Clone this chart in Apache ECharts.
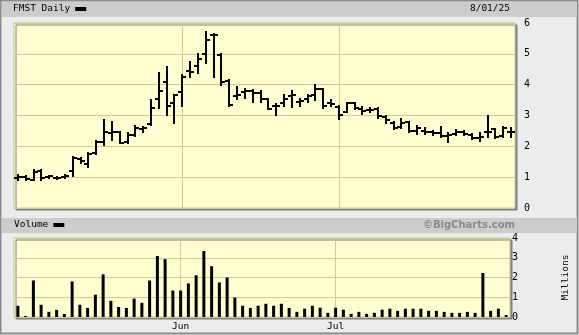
<!DOCTYPE html>
<html><head><meta charset="utf-8">
<script src="https://cdn.jsdelivr.net/npm/echarts@6/dist/echarts.min.js"></script>
<style>html,body{margin:0;padding:0;background:#ececec}#c{width:579px;height:335px}</style>
</head><body><div id="c"></div>
<script>
const dates = ['2025-05-01','2025-05-02','2025-05-05','2025-05-06','2025-05-07','2025-05-08','2025-05-09','2025-05-12','2025-05-13','2025-05-14','2025-05-15','2025-05-16','2025-05-19','2025-05-20','2025-05-21','2025-05-22','2025-05-23','2025-05-27','2025-05-28','2025-05-29','2025-05-30',
'2025-06-02','2025-06-03','2025-06-04','2025-06-05','2025-06-06','2025-06-09','2025-06-10','2025-06-11','2025-06-12','2025-06-13','2025-06-16','2025-06-17','2025-06-18','2025-06-20','2025-06-23','2025-06-24','2025-06-25','2025-06-26','2025-06-27','2025-06-30',
'2025-07-01','2025-07-02','2025-07-03','2025-07-07','2025-07-08','2025-07-09','2025-07-10','2025-07-11','2025-07-14','2025-07-15','2025-07-16','2025-07-17','2025-07-18','2025-07-21','2025-07-22','2025-07-23','2025-07-24','2025-07-25','2025-07-28','2025-07-29','2025-07-30','2025-07-31','2025-08-01'];
const opens = [0.98,1.0,0.92,1.2,1.0,0.98,1.0,1.2,1.6,1.42,
1.78,2.15,2.42,2.45,2.13,2.38,2.55,2.72,3.53,4.08,
3.4,3.75,4.45,4.6,5.0,5.62,4.95,4.12,3.62,3.75,
3.8,3.72,3.52,3.32,3.4,3.62,3.45,3.52,3.68,3.85,
3.4,3.28,3.1,3.39,3.2,3.18,3.22,2.95,2.75,2.62,
2.78,2.5,2.5,2.47,2.42,2.33,2.4,2.48,2.38,2.28,
2.45,2.55,2.32,2.45];
const highs = [1.06,1.03,1.22,1.22,1.05,1.0,1.06,1.64,1.62,1.78,
2.18,2.85,2.78,2.48,2.42,2.65,2.62,3.5,4.38,4.58,
3.68,4.3,4.75,5.0,5.72,5.65,4.98,4.14,3.92,3.85,
3.82,3.78,3.55,3.38,3.65,3.78,3.55,3.68,3.98,3.86,
3.5,3.3,3.4,3.4,3.27,3.23,3.24,2.97,2.8,2.88,
2.8,2.65,2.58,2.5,2.62,2.42,2.52,2.5,2.4,2.42,
2.97,2.57,2.62,2.6];
const lows = [0.9,0.92,0.9,0.9,0.96,0.94,0.97,1.05,1.45,1.34,
1.76,2.03,2.2,2.1,2.12,2.35,2.45,2.68,3.24,3.02,
2.77,3.3,4.25,4.38,4.7,4.25,4.0,3.32,3.52,3.58,
3.45,3.45,3.22,3.02,3.3,3.27,3.3,3.45,3.5,3.25,
3.3,2.9,3.1,3.2,3.05,3.12,2.92,2.75,2.55,2.6,
2.48,2.4,2.4,2.38,2.3,2.15,2.38,2.38,2.25,2.18,
2.3,2.28,2.3,2.3];
const closes = [1.0,0.95,1.18,0.98,1.03,0.96,1.04,1.62,1.52,1.75,
2.15,2.45,2.45,2.12,2.37,2.58,2.6,3.25,3.78,3.3,
3.68,4.25,4.42,4.83,5.45,5.62,4.1,3.35,3.68,3.8,
3.72,3.55,3.22,3.32,3.52,3.65,3.48,3.62,3.85,3.32,
3.38,3.03,3.39,3.25,3.15,3.18,2.97,2.85,2.6,2.75,
2.5,2.58,2.45,2.42,2.33,2.37,2.48,2.4,2.28,2.3,
2.47,2.3,2.6,2.45];
const volumes = [0.57,0.05,1.85,0.62,0.26,0.36,0.15,1.8,0.62,0.46,
1.13,2.16,0.82,0.51,0.46,0.93,0.72,1.85,3.09,2.93,
1.34,1.34,1.7,2.11,3.34,2.57,1.75,2.0,0.98,0.57,
0.46,0.57,0.67,0.57,0.67,0.46,0.26,0.42,0.57,0.47,
0.21,0.47,0.37,0.16,0.26,0.16,0.21,0.37,0.42,0.31,
0.42,0.42,0.42,0.31,0.31,0.26,0.21,0.21,0.26,0.21,
2.23,0.31,0.42,0.1];
const monthTicks = [['2025-06-02','Jun'],['2025-07-01','Jul']];
const priceTicks = [0,1,2,3,4,5,6];
const volumeTicks = [0,1,2,3,4];
const titleText = 'FMST Daily';
const dateText = '8/01/25';
const volumeText = 'Volume';
const creditText = '©BigCharts.com';
const volumeUnit = 'Millions';

const monthMap = {};
monthTicks.forEach(m => monthMap[m[0]] = m[1]);
const ohlc = opens.map((o, i) => [i, o, highs[i], lows[i], closes[i]]);
const MONO = 'DejaVu Sans Mono';
const gridColor = '#cccc99';
const plotBg = '#fefed0';

const chart = echarts.init(document.getElementById('c'), null, {renderer: 'canvas'});
const markLineCfg = {
  silent: true, symbol: 'none', z: 1, animation: false,
  label: {show: false},
  lineStyle: {color: gridColor, width: 1, type: 'solid'},
  data: monthTicks.map(m => ({xAxis: m[0]}))
};
chart.setOption({
  animation: false,
  backgroundColor: '#ececec',
  graphic: [
    {type: 'rect', z: -10, shape: {x: 0.5, y: 0.5, width: 577, height: 333}, style: {fill: '#ececec', stroke: '#8c8c8c', lineWidth: 2}},
    {type: 'rect', z: -9, shape: {x: 2, y: 2, width: 575, height: 15}, style: {fill: '#cccccc'}},
    {type: 'rect', z: -9, shape: {x: 2, y: 218, width: 575, height: 15}, style: {fill: '#cccccc'}}
  ],
  title: [
    {text: dateText, right: 69, top: 4, padding: 0, textStyle: {fontFamily: MONO, fontSize: 9.5, fontWeight: 'normal', color: '#000'}},
    {text: creditText, right: 64, top: 220, padding: 0, textStyle: {fontFamily: 'DejaVu Sans', fontSize: 10, fontWeight: 'bold', color: '#8a8a8a'}}
  ],
  legend: [
    {data: [titleText], left: 13, top: 4, padding: 0, align: 'right', icon: 'rect', itemWidth: 11, itemHeight: 4, selectedMode: false,
     textStyle: {fontFamily: MONO, fontSize: 9.5, color: '#000', padding: 0}},
    {data: [volumeText], left: 14, top: 220, padding: 0, align: 'right', icon: 'rect', itemWidth: 11, itemHeight: 4, selectedMode: false,
     textStyle: {fontFamily: MONO, fontSize: 9.5, color: '#000', padding: 0}}
  ],
  grid: [
    {left: 14, right: 64, top: 23, height: 185, show: true, backgroundColor: plotBg, borderColor: '#c8c898', borderWidth: 1,
     shadowColor: '#808080', shadowOffsetX: 2, shadowOffsetY: 2, shadowBlur: 0},
    {left: 14, right: 64, top: 238, height: 79, show: true, backgroundColor: plotBg, borderColor: '#c8c898', borderWidth: 1,
     shadowColor: '#808080', shadowOffsetX: 2, shadowOffsetY: 2, shadowBlur: 0}
  ],
  xAxis: [
    {type: 'category', gridIndex: 0, data: dates, boundaryGap: true, show: false},
    {type: 'category', gridIndex: 1, data: dates, boundaryGap: true,
     axisLine: {show: false}, axisTick: {show: false}, splitLine: {show: false},
     axisLabel: {show: true, margin: 5, interval: (i, v) => v in monthMap, formatter: v => monthMap[v] || '',
                 fontFamily: MONO, fontSize: 9.5, color: '#000'}}
  ],
  yAxis: [
    {type: 'value', gridIndex: 0, position: 'right', min: priceTicks[0], max: priceTicks[priceTicks.length - 1], interval: 1,
     axisLine: {show: false}, axisTick: {show: false},
     axisLabel: {margin: 9, fontFamily: MONO, fontSize: 10, color: '#000'},
     splitLine: {show: true, lineStyle: {color: gridColor, width: 1}}},
    {type: 'value', gridIndex: 1, position: 'right', min: volumeTicks[0], max: volumeTicks[volumeTicks.length - 1], interval: 1,
     axisLine: {show: false}, axisTick: {show: false},
     axisLabel: {margin: 2, fontFamily: MONO, fontSize: 10, color: '#000'},
     splitLine: {show: true, lineStyle: {color: gridColor, width: 1}},
     name: volumeUnit, nameLocation: 'middle', nameRotate: 90, nameGap: 51,
     nameTextStyle: {fontFamily: MONO, fontSize: 9.5, color: '#000'}}
  ],
  series: [
    {name: titleText, type: 'custom', xAxisIndex: 0, yAxisIndex: 0, data: ohlc, itemStyle: {color: '#000'},
     markLine: markLineCfg,
     renderItem: function (params, api) {
       const x = api.value(0);
       const o = api.coord([x, api.value(1)]);
       const h = api.coord([x, api.value(2)]);
       const l = api.coord([x, api.value(3)]);
       const c = api.coord([x, api.value(4)]);
       const cx = Math.round(o[0]);
       const w = 4;
       const st = {stroke: '#000', lineWidth: 2};
       return {type: 'group', children: [
         {type: 'line', shape: {x1: cx, y1: Math.round(h[1]) - 1, x2: cx, y2: Math.round(l[1]) + 1}, style: st},
         {type: 'line', shape: {x1: cx - w, y1: Math.round(o[1]), x2: cx, y2: Math.round(o[1])}, style: st},
         {type: 'line', shape: {x1: cx, y1: Math.round(c[1]), x2: cx + w, y2: Math.round(c[1])}, style: st}
       ]};
     }},
    {name: volumeText, type: 'bar', xAxisIndex: 1, yAxisIndex: 1, data: volumes, barWidth: 3,
     itemStyle: {color: '#000'}, markLine: markLineCfg}
  ]
});
</script></body></html>
